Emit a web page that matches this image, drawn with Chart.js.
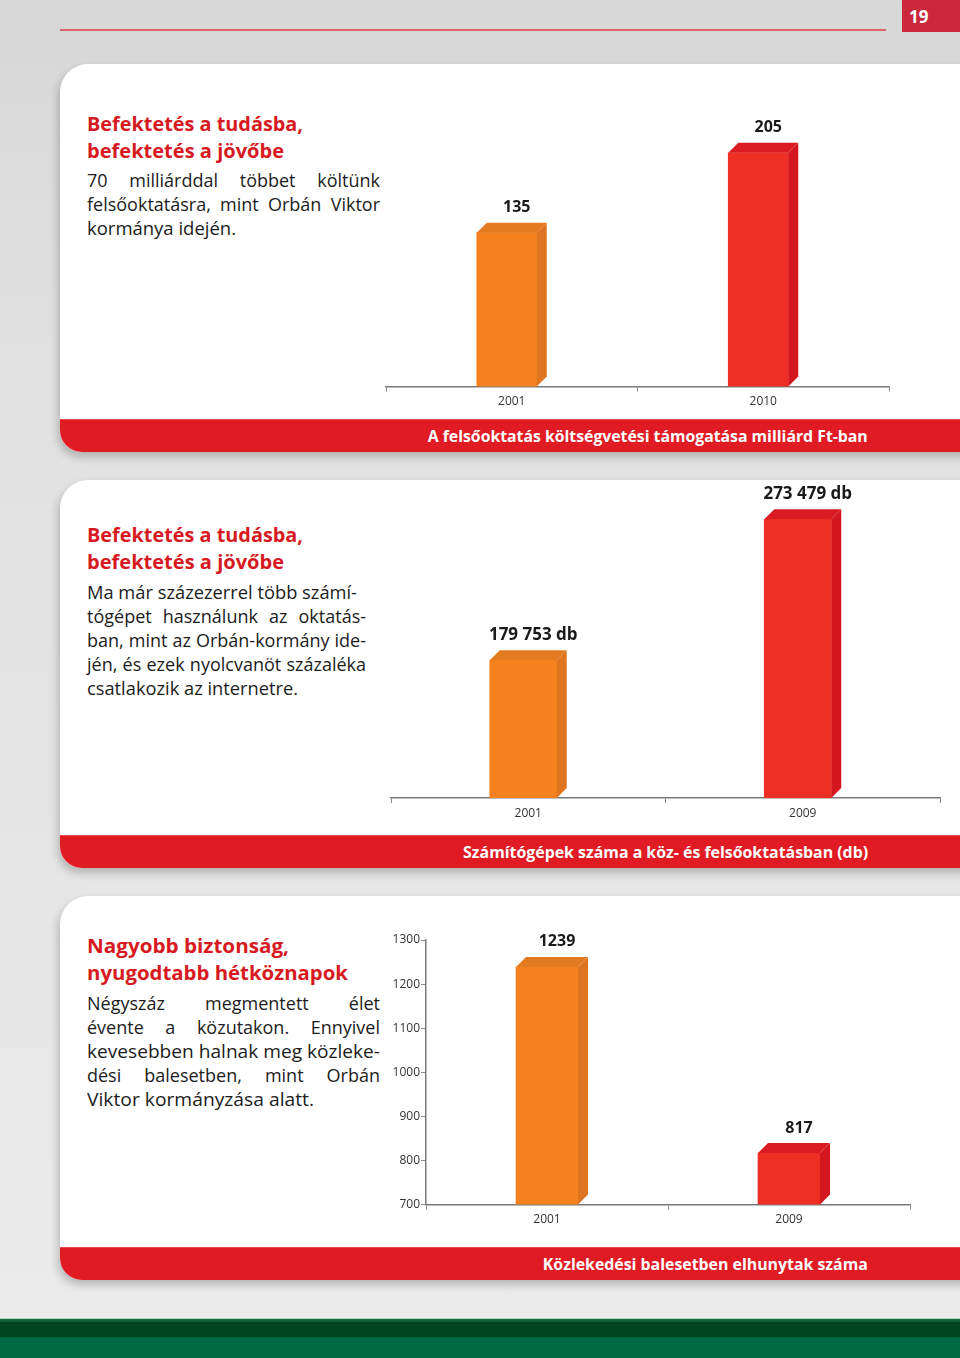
<!DOCTYPE html>
<html>
<head>
<meta charset="utf-8">
<script src="https://cdn.jsdelivr.net/npm/chart.js@4.4.1/dist/chart.umd.min.js"></script>
<style>
  body { margin: 0; }
  #page {
    position: relative; width: 960px; height: 1358px; overflow: hidden;
    background: linear-gradient(180deg, #d7d7d7 0%, #e1e1e1 25%, #e5e5e5 60%, #ebebeb 96%);
    font-family: "Open Sans", sans-serif;
  }
  .topline { position: absolute; left: 60px; top: 29px; width: 826px; height: 2px; background: #d9636c; }
  .pagenum {
    position: absolute; left: 902px; top: 0; width: 58px; height: 32px; background: #c9283a;
    color: #fff; font-weight: 700; font-size: 17px; line-height: 34px; padding-left: 7px; box-sizing: border-box;
  }
  .panel {
    position: absolute; left: 60px; width: 920px; background: #fff;
    border-radius: 28px 0 0 22px; box-shadow: -2px 5px 9px rgba(0,0,0,.22); overflow: hidden;
  }
  .band {
    position: absolute; left: 0; right: 0; bottom: 0; height: 32px; background: #e01b24;
    border-top: 1px solid #ea4a4f;
  }
  .cap {
    position: absolute; right: 112px; top: 6px; color: #fff; font-weight: 700; font-size: 16px;
    line-height: 20px; white-space: nowrap; transform-origin: right center;
  }
  .title { position: absolute; left: 87px; color: #d71a21; font-weight: 700; font-size: 20px; line-height: 27px; }
  .body { position: absolute; left: 87px; color: #1c1c1c; font-size: 18px; line-height: 24px; }
  .ln { white-space: nowrap; }
  .ln span { display: inline-block; transform-origin: left center; }
  .footer {
    position: absolute; left: 0; top: 1318px; width: 960px; height: 40px;
    background: linear-gradient(180deg, #a8d8bb 0px, #a8d8bb 1px, #136c40 1px, #0d5c33 4px, #00441d 4px, #00441d 19px, #006a45 19px);
  }
  canvas { position: absolute; }
</style>
</head>
<body>
<div id="page">
  <div class="topline"></div>
  <div class="pagenum">19</div>

  <div class="panel" style="top:64px;height:388px;">
    <div class="band"><div class="cap" data-w="440">A felsőoktatás költségvetési támogatása milliárd Ft-ban</div></div>
  </div>
  <div class="panel" style="top:480px;height:388px;">
    <div class="band"><div class="cap" data-w="405">Számítógépek száma a köz- és felsőoktatásban (db)</div></div>
  </div>
  <div class="panel" style="top:896px;height:384px;">
    <div class="band"><div class="cap" data-w="325">Közlekedési balesetben elhunytak száma</div></div>
  </div>

  <div class="title" style="top:110px;">
    <div class="ln" data-w="216"><span>Befektetés a tudásba,</span></div>
    <div class="ln" data-w="197"><span>befektetés a jövőbe</span></div>
  </div>
  <div class="body" style="top:168px;">
    <div class="ln" data-w="293" data-j="1"><span>70 milliárddal többet költünk</span></div>
    <div class="ln" data-w="293" data-j="1"><span>felsőoktatásra, mint Orbán Viktor</span></div>
    <div class="ln" data-w="149"><span>kormánya idején.</span></div>
  </div>

  <div class="title" style="top:521px;">
    <div class="ln" data-w="216"><span>Befektetés a tudásba,</span></div>
    <div class="ln" data-w="197"><span>befektetés a jövőbe</span></div>
  </div>
  <div class="body" style="top:580px;">
    <div class="ln" data-w="270"><span>Ma már százezerrel több számí-</span></div>
    <div class="ln" data-w="279" data-j="1"><span>tógépet használunk az oktatás-</span></div>
    <div class="ln" data-w="279" data-j="1"><span>ban, mint az Orbán-kormány ide-</span></div>
    <div class="ln" data-w="279" data-j="1"><span>jén, és ezek nyolcvanöt százaléka</span></div>
    <div class="ln" data-w="211"><span>csatlakozik az internetre.</span></div>
  </div>

  <div class="title" style="top:932px;">
    <div class="ln" data-w="202"><span>Nagyobb biztonság,</span></div>
    <div class="ln" data-w="261"><span>nyugodtabb hétköznapok</span></div>
  </div>
  <div class="body" style="top:991px;">
    <div class="ln" data-w="293" data-j="1"><span>Négyszáz megmentett élet</span></div>
    <div class="ln" data-w="293" data-j="1"><span>évente a közutakon. Ennyivel</span></div>
    <div class="ln" data-w="293"><span>kevesebben halnak meg közleke-</span></div>
    <div class="ln" data-w="293" data-j="1"><span>dési balesetben, mint Orbán</span></div>
    <div class="ln" data-w="227"><span>Viktor kormányzása alatt.</span></div>
  </div>

  <canvas id="budget" width="540" height="315" style="left:370px;top:100px;"></canvas>
  <canvas id="computers" width="580" height="345" style="left:370px;top:482px;"></canvas>
  <canvas id="deaths" width="560" height="305" style="left:370px;top:925px;"></canvas>

  <div class="footer"></div>
</div>

<script>
// chart 1: higher education budget, billion Ft
const budgetYears = ['2001', '2010'];
const budgetValues = [135, 205];
const budgetLabels = ['135', '205'];

// chart 2: computers in schools
const pcYears = ['2001', '2009'];
const pcValues = [179753, 273479];
const pcLabels = ['179 753 db', '273 479 db'];

// chart 3: road deaths
const deathYears = ['2001', '2009'];
const deathValues = [1239, 817];
const deathLabels = ['1239', '817'];
const deathTicks = [700, 800, 900, 1000, 1100, 1200, 1300];

const frontColors = ['#f5821f', '#ee2f25'];
const topColors = ['#e57b20', '#da1c22'];
const sideColors = ['#df7520', '#d4171f'];

const FONT = '"Open Sans", sans-serif';

// fake 3d: top and side faces next to the flat bars, plus value label
const bar3d = {
  id: 'bar3d',
  afterDatasetsUpdate(chart, args, opts) {
    chart.getDatasetMeta(0).data.forEach(el => { el.x += opts.shift; });
  },
  afterDatasetsDraw(chart, args, opts) {
    const ctx = chart.ctx;
    const d = opts.depth;
    chart.getDatasetMeta(0).data.forEach((el, i) => {
      const x0 = el.x - el.width / 2, x1 = el.x + el.width / 2;
      const top = el.y;
      const base = Math.min(el.base, chart.chartArea.bottom);
      ctx.save();
      ctx.fillStyle = topColors[i];
      ctx.beginPath();
      ctx.moveTo(x0, top);
      ctx.lineTo(x0 + d, top - d);
      ctx.lineTo(x1 + d, top - d);
      ctx.lineTo(x1, top);
      ctx.closePath();
      ctx.fill();
      ctx.fillStyle = sideColors[i];
      ctx.beginPath();
      ctx.moveTo(x1, top);
      ctx.lineTo(x1 + d, top - d);
      ctx.lineTo(x1 + d, base - d);
      ctx.lineTo(x1, base);
      ctx.closePath();
      ctx.fill();
      ctx.fillStyle = '#1a1a1a';
      ctx.font = 'bold ' + opts.labelSize + 'px ' + FONT;
      ctx.textAlign = 'center';
      ctx.textBaseline = 'middle';
      ctx.fillText(opts.labels[i], el.x + d, top - d - 15);
      ctx.restore();
    });
  }
};

const xAxis = {
  grid: { drawOnChartArea: false, tickLength: 5, color: '#8c8c8c' },
  border: { color: '#7a7a7a', width: 1.5 },
  ticks: { color: '#333', font: { family: FONT, size: 12 }, padding: 3 }
};

function makeChart(id, cats, vals, cfg) {
  return new Chart(document.getElementById(id), {
    type: 'bar',
    data: {
      labels: cats,
      datasets: [{ data: vals, backgroundColor: frontColors, borderWidth: 0, barThickness: cfg.barWidth }]
    },
    options: {
      responsive: false,
      animation: false,
      layout: { padding: cfg.padding },
      plugins: {
        legend: { display: false },
        tooltip: { enabled: false },
        bar3d: { depth: 10, shift: cfg.shift, labels: cfg.labels, labelSize: cfg.labelSize }
      },
      scales: { x: xAxis, y: cfg.y }
    },
    plugins: [bar3d]
  });
}

function fitLines() {
  document.querySelectorAll('.ln').forEach(el => {
    const span = el.firstElementChild;
    const target = +el.dataset.w;
    const w = span.getBoundingClientRect().width;
    const gaps = (span.textContent.match(/ /g) || []).length;
    if (el.dataset.j && w < target && gaps) {
      span.style.wordSpacing = ((target - w) / gaps) + 'px';
    } else {
      span.style.transform = 'scaleX(' + (target / w) + ')';
    }
  });
  document.querySelectorAll('.cap').forEach(el => {
    const w = el.getBoundingClientRect().width;
    el.style.transform = 'scaleX(' + (+el.dataset.w / w) + ')';
  });
}

function draw() {
  fitLines();

  makeChart('budget', budgetYears, budgetValues, {
    barWidth: 60, shift: -5, labels: budgetLabels, labelSize: 16,
    padding: { left: 16, right: 21, top: 30, bottom: 3 },
    y: { display: false, min: 0, max: 225 }
  });

  makeChart('computers', pcYears, pcValues, {
    barWidth: 67, shift: -5, labels: pcLabels, labelSize: 17,
    padding: { left: 21, right: 10, top: 20, bottom: 3.6 },
    y: { display: false, min: 88000, max: 285000 }
  });

  makeChart('deaths', deathYears, deathValues, {
    barWidth: 62, shift: 0, labels: deathLabels, labelSize: 16,
    padding: { left: 16, right: 20, top: 15, bottom: 0 },
    y: {
      min: 700, max: 1300,
      afterBuildTicks: s => { s.ticks = deathTicks.map(v => ({ value: v })); },
      afterFit: s => { s.width = 40; },
      grid: { drawOnChartArea: false, tickLength: 5, color: '#8c8c8c' },
      border: { color: '#7a7a7a', width: 1.5 },
      ticks: { color: '#333', font: { family: FONT, size: 12 }, padding: 1, callback: v => String(v) }
    }
  });
}

if (document.fonts && document.fonts.ready) {
  document.fonts.ready.then(draw);
} else {
  draw();
}
</script>
</body>
</html>
